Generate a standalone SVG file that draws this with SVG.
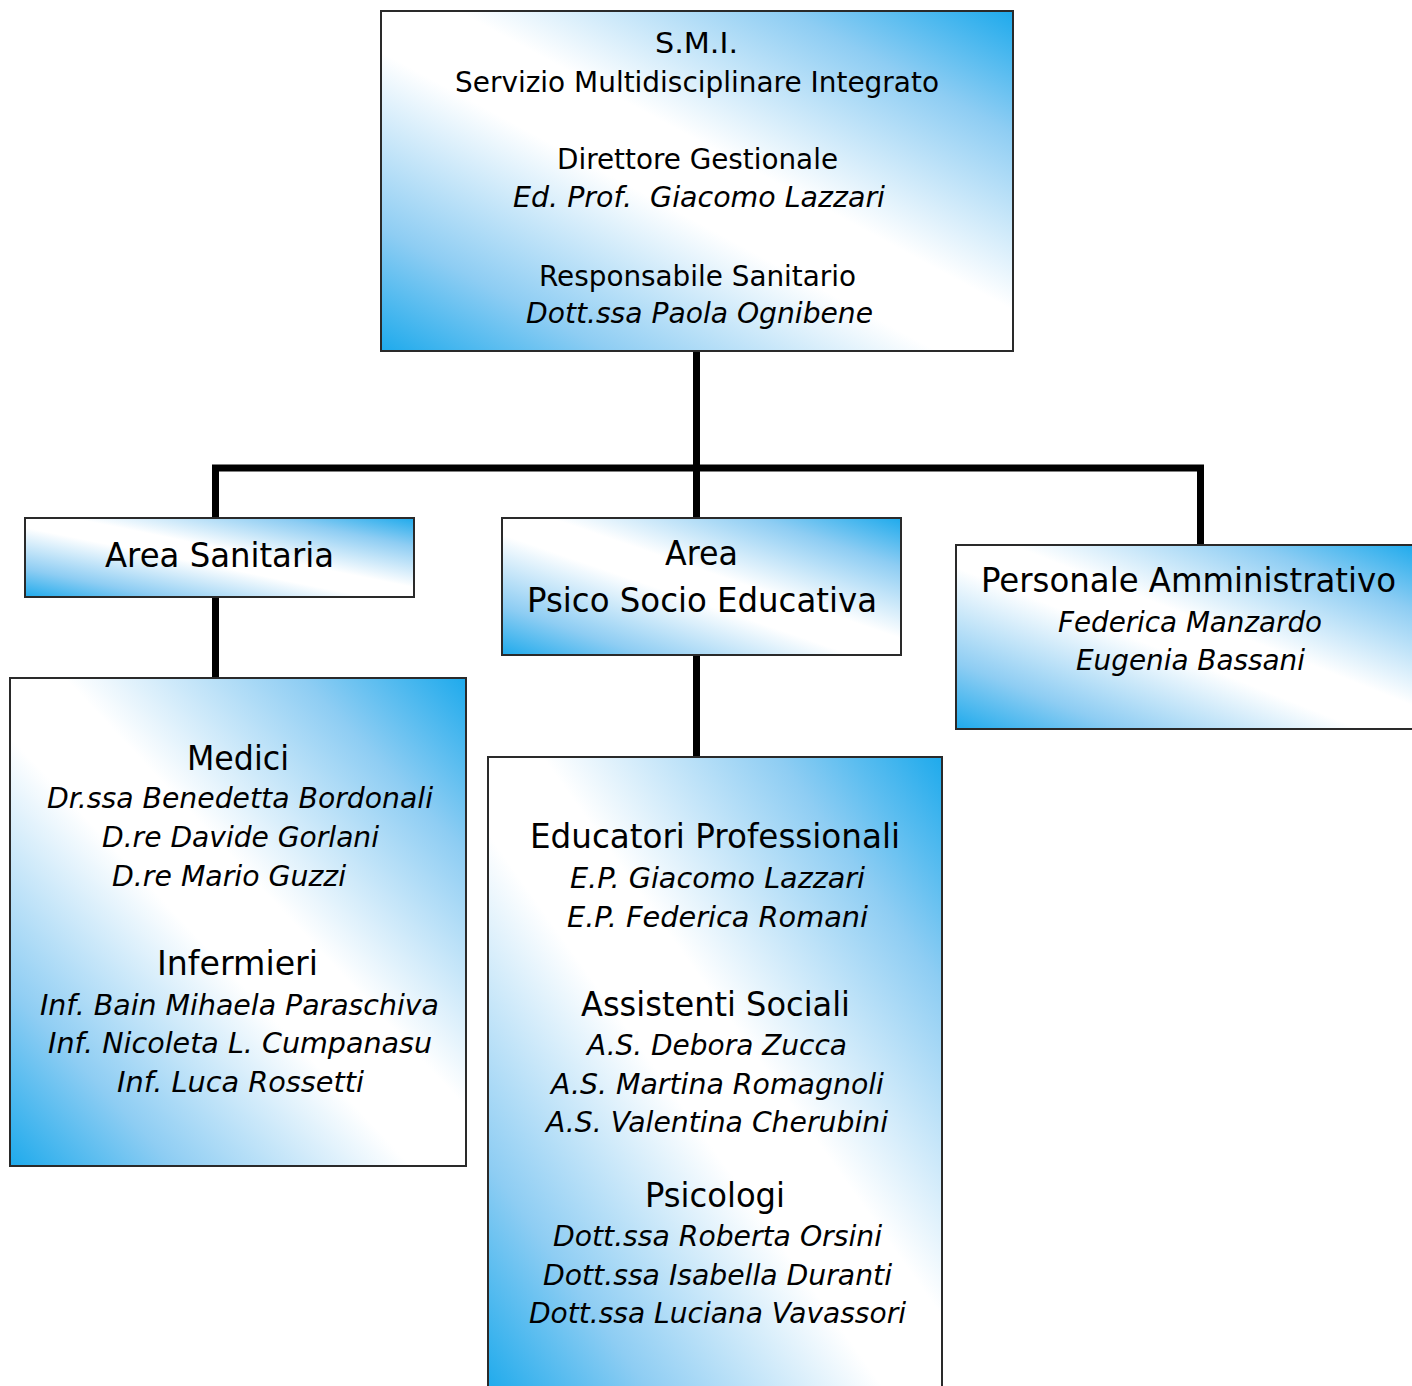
<svg xmlns="http://www.w3.org/2000/svg" width="1412" height="1386" viewBox="0 0 1412 1386">
<defs>
<linearGradient id="g" x1="0" y1="1" x2="1" y2="0">
<stop offset="0" stop-color="#1eaaec"/>
<stop offset="0.18" stop-color="#8ecdf3"/>
<stop offset="0.44" stop-color="#ffffff"/>
<stop offset="0.56" stop-color="#ffffff"/>
<stop offset="0.82" stop-color="#8ecdf3"/>
<stop offset="1" stop-color="#1eaaec"/>
</linearGradient>
<style>
.box{fill:url(#g);stroke:#2a2a2a;stroke-width:2}
.t{font-family:"DejaVu Sans","Liberation Sans",sans-serif;fill:#000}
.h{font-size:33px}
.n{font-size:29px}
.i{font-size:29px;font-style:italic}
.conn{fill:none;stroke:#000;stroke-width:7;stroke-linejoin:miter;stroke-linecap:butt}
</style>
</defs>
<rect width="1412" height="1386" fill="#fff"/>
<g id="connectors">
<line class="conn" x1="696.5" y1="351" x2="696.5" y2="518"/>
<polyline class="conn" points="215.5,518 215.5,468 1200.5,468 1200.5,545"/>
<line class="conn" x1="215.5" y1="597" x2="215.5" y2="678"/>
<line class="conn" x1="696.5" y1="655" x2="696.5" y2="757"/>
</g>
<g id="smi">
<rect class="box" x="381" y="11" width="632" height="340"/>
<text class="t n" x="655" y="53" textLength="83" lengthAdjust="spacingAndGlyphs">S.M.I.</text>
<text class="t n" x="455" y="92" textLength="484" lengthAdjust="spacingAndGlyphs">Servizio Multidisciplinare Integrato</text>
<text class="t n" x="557" y="169" textLength="281" lengthAdjust="spacingAndGlyphs">Direttore Gestionale</text>
<text class="t i" x="513" y="207" textLength="372" lengthAdjust="spacingAndGlyphs" xml:space="preserve">Ed. Prof.  Giacomo Lazzari</text>
<text class="t n" x="539" y="286" textLength="317" lengthAdjust="spacingAndGlyphs">Responsabile Sanitario</text>
<text class="t i" x="526" y="323" textLength="347" lengthAdjust="spacingAndGlyphs">Dott.ssa Paola Ognibene</text>
</g>
<g id="area-sanitaria">
<rect class="box" x="25" y="518" width="389" height="79"/>
<text class="t h" x="105" y="567" textLength="229" lengthAdjust="spacingAndGlyphs">Area Sanitaria</text>
</g>
<g id="area-pse">
<rect class="box" x="502" y="518" width="399" height="137"/>
<text class="t h" x="665" y="565" textLength="73" lengthAdjust="spacingAndGlyphs">Area</text>
<text class="t h" x="527" y="612" textLength="350" lengthAdjust="spacingAndGlyphs">Psico Socio Educativa</text>
</g>
<g id="personale-amministrativo">
<rect class="box" x="956" y="545" width="460" height="184"/>
<text class="t h" x="981" y="592" textLength="415" lengthAdjust="spacingAndGlyphs">Personale Amministrativo</text>
<text class="t i" x="1058" y="632" textLength="264" lengthAdjust="spacingAndGlyphs">Federica Manzardo</text>
<text class="t i" x="1076" y="670" textLength="229" lengthAdjust="spacingAndGlyphs">Eugenia Bassani</text>
</g>
<g id="medici-infermieri">
<rect class="box" x="10" y="678" width="456" height="488"/>
<text class="t h" x="187" y="770" textLength="102" lengthAdjust="spacingAndGlyphs">Medici</text>
<text class="t i" x="47" y="808" textLength="386" lengthAdjust="spacingAndGlyphs">Dr.ssa Benedetta Bordonali</text>
<text class="t i" x="102" y="847" textLength="277" lengthAdjust="spacingAndGlyphs">D.re Davide Gorlani</text>
<text class="t i" x="112" y="886" textLength="234" lengthAdjust="spacingAndGlyphs">D.re Mario Guzzi</text>
<text class="t h" x="157" y="975" textLength="161" lengthAdjust="spacingAndGlyphs">Infermieri</text>
<text class="t i" x="40" y="1015" textLength="399" lengthAdjust="spacingAndGlyphs">Inf. Bain Mihaela Paraschiva</text>
<text class="t i" x="48" y="1053" textLength="384" lengthAdjust="spacingAndGlyphs">Inf. Nicoleta L. Cumpanasu</text>
<text class="t i" x="117" y="1092" textLength="247" lengthAdjust="spacingAndGlyphs">Inf. Luca Rossetti</text>
</g>
<g id="educatori-assistenti-psicologi">
<rect class="box" x="488" y="757" width="454" height="636"/>
<text class="t h" x="530" y="848" textLength="370" lengthAdjust="spacingAndGlyphs">Educatori Professionali</text>
<text class="t i" x="570" y="888" textLength="295" lengthAdjust="spacingAndGlyphs">E.P. Giacomo Lazzari</text>
<text class="t i" x="567" y="927" textLength="301" lengthAdjust="spacingAndGlyphs">E.P. Federica Romani</text>
<text class="t h" x="581" y="1016" textLength="269" lengthAdjust="spacingAndGlyphs">Assistenti Sociali</text>
<text class="t i" x="587" y="1055" textLength="260" lengthAdjust="spacingAndGlyphs">A.S. Debora Zucca</text>
<text class="t i" x="551" y="1094" textLength="333" lengthAdjust="spacingAndGlyphs">A.S. Martina Romagnoli</text>
<text class="t i" x="546" y="1132" textLength="342" lengthAdjust="spacingAndGlyphs">A.S. Valentina Cherubini</text>
<text class="t h" x="645" y="1207" textLength="140" lengthAdjust="spacingAndGlyphs">Psicologi</text>
<text class="t i" x="553" y="1246" textLength="329" lengthAdjust="spacingAndGlyphs">Dott.ssa Roberta Orsini</text>
<text class="t i" x="543" y="1285" textLength="349" lengthAdjust="spacingAndGlyphs">Dott.ssa Isabella Duranti</text>
<text class="t i" x="529" y="1323" textLength="377" lengthAdjust="spacingAndGlyphs">Dott.ssa Luciana Vavassori</text>
</g>
</svg>
